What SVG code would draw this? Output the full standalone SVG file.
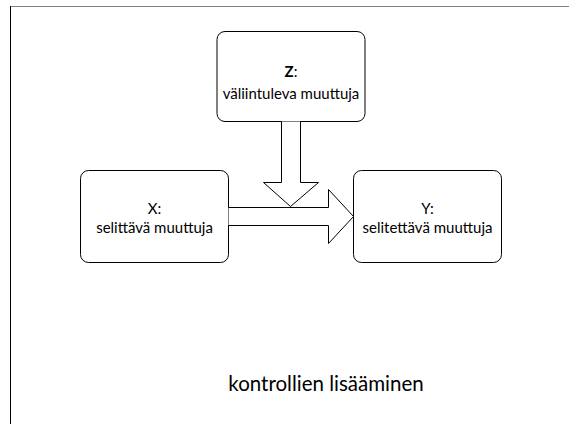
<svg xmlns="http://www.w3.org/2000/svg" width="569" height="424" viewBox="0 0 569 424">
<style>
.box{fill:#fff;stroke:#000;stroke-width:1}
.arr{fill:#fff;stroke:#000;stroke-width:1;stroke-linejoin:miter}
.t{font-family:Lato,"Liberation Sans",sans-serif;font-size:15px;fill:#000;text-anchor:middle}
.b{font-weight:bold}
.title{font-family:Lato,"Liberation Sans",sans-serif;font-size:20.5px;fill:#000;text-anchor:middle}
</style>
<rect width="569" height="424" fill="#fff"/>
<line x1="10" y1="6.5" x2="569" y2="6.5" stroke="#808080" stroke-width="1"/>
<line x1="10.5" y1="6" x2="10.5" y2="424" stroke="#000" stroke-width="1"/>
<g id="nodeZ">
<rect class="box" x="217" y="31.5" width="148" height="90" rx="8"/>
<text class="t" x="291" y="77"><tspan class="b">Z</tspan>:</text>
<text class="t" x="291" y="99">väliintuleva muuttuja</text>
</g>
<g id="nodeX">
<rect class="box" x="80.5" y="170.5" width="148" height="92" rx="8"/>
<text class="t" x="154.5" y="214">X:</text>
<text class="t" x="154.5" y="233">selittävä muuttuja</text>
</g>
<g id="nodeY">
<rect class="box" x="353.5" y="170.5" width="148" height="92" rx="8"/>
<text class="t" x="427.5" y="214">Y:</text>
<text class="t" x="427.5" y="233">selitettävä muuttuja</text>
</g>
<g id="connectors">
<path class="arr" d="M228.5,207.5 H328.5 V189.5 L353.5,216.5 L328.5,243.5 V225.5 H228.5"/>
<path class="arr" d="M281.5,121.5 V182.5 H263.5 L290.5,206.5 L318.5,182.5 H300.5 V121.5"/>
</g>
<text class="title" x="326" y="391">kontrollien lisääminen</text>
</svg>
